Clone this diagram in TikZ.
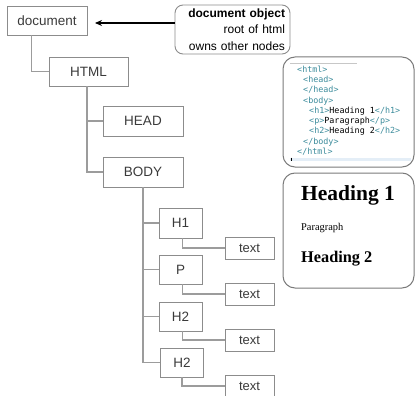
\documentclass[tikz,border=0pt]{standalone}
\usepackage{fontspec}
\setmainfont{Liberation Sans}
\newfontfamily\codefont{DejaVu Sans Mono}
\newfontfamily\pagefont{Liberation Serif}
\usetikzlibrary{arrows.meta}

\definecolor{boxgrey}{HTML}{8C8C8C}
\definecolor{linegrey}{HTML}{9C9C9C}
\definecolor{inkgrey}{HTML}{3A3A3A}
\definecolor{panelgrey}{HTML}{7A7A7A}
\definecolor{tagteal}{HTML}{3B8B9B}
\definecolor{selblue}{HTML}{E4EEF7}
\newcommand{\tagtxt}[1]{\textcolor{tagteal}{#1}}
\newlength{\indentstep}
\setlength{\indentstep}{6pt} % indent per level in the listing

\tikzset{
  treebox/.style={draw=boxgrey, line width=0.9pt, text=inkgrey, inner sep=0pt,
    minimum width=80pt, minimum height=29pt, font=\fontsize{13.5}{15}\selectfont},
  smallbox/.style={treebox, minimum width=43pt, minimum height=30pt},
  leafbox/.style={treebox, minimum width=49pt, minimum height=22pt, font=\fontsize{13}{15}\selectfont},
  branch/.style={draw=linegrey, line width=1.4pt},
  pointer/.style={-{Stealth[length=7pt,width=6pt]}, line width=1.3pt},
  panel/.style={draw=panelgrey, line width=1pt, rounded corners=12pt, inner sep=0pt}
}

\begin{document}
\begin{tikzpicture}[x=1pt, y=-1pt]
% Fix the page to the size of the screenshot
\useasboundingbox (0,0) rectangle (415,396);

% The DOM tree
\node[treebox] (doc) at (47, 20.5) {document};
\node[treebox, minimum width=79pt] (html) at (88.5, 71.5) {HTML};
\node[treebox, minimum height=30pt] (head) at (143, 121) {HEAD};
\node[treebox, minimum height=30pt] (body) at (143, 172) {BODY};
\node[smallbox] (h1) at (180.5, 223) {H1};
\node[leafbox] (text1) at (249.5, 248) {text};
\node[smallbox, minimum height=29pt] (p) at (180.5, 269.5) {P};
\node[leafbox] (text2) at (249.5, 294) {text};
\node[smallbox, minimum height=29pt] (h2a) at (180.5, 316.5) {H2};
\node[leafbox] (text3) at (249.5, 340) {text};
\node[smallbox, minimum height=29pt] (h2b) at (182, 362.5) {H2};
\node[leafbox] (text4) at (249.5, 386) {text};

% Elbow connectors
\draw[branch] ([xshift=25pt]doc.south west) |- (html.west);
\draw[branch] ([xshift=-1.5pt]html.south) |- (head.west);
\draw[branch] ([xshift=-1.5pt]html.south) |- (body.west);
\foreach \n in {h1, p, h2a, h2b}
  \draw[branch] (body.south) |- (\n.west);
\draw[branch] ([xshift=24pt]h1.south west) |- (text1.west);
\draw[branch] ([xshift=24pt]p.south west) |- (text2.west);
\draw[branch] ([xshift=24pt]h2a.south west) |- (text3.west);
\draw[branch] ([xshift=22pt]h2b.south west) |- (text4.west);

% Callout for the document object
\node[draw=boxgrey, line width=0.9pt, rounded corners=8pt, inner xsep=5pt, inner ysep=0pt,
  text width=105pt, minimum height=49pt, align=right,
  font=\fontsize{12}{16.5}\selectfont] (callout) at (232.5, 29.5)
  {\textbf{document object}\\root of html\\owns other nodes};
\coordinate (tip) at (95, 23);
\draw[pointer] (callout.west |- tip) -- (tip);

% Source listing
\node[panel, minimum width=131pt, minimum height=110pt] (source) at (348.5, 112) {};
\draw[black!22, line width=0.6pt] (290, 63) -- (357, 63);
\fill[selblue] (290, 157.5) rectangle (411, 161);
\draw[black, line width=1pt] (291, 157.5) -- (291, 161);
\node[anchor=north west, inner sep=0pt, align=left,
  font=\codefont\fontsize{8.4}{10.3}\selectfont] (listing) at (297, 65.5)
  {\tagtxt{<html>}\\%
   \hspace*{\indentstep}\tagtxt{<head>}\\%
   \hspace*{\indentstep}\tagtxt{</head>}\\%
   \hspace*{\indentstep}\tagtxt{<body>}\\%
   \hspace*{2\indentstep}\tagtxt{<h1>}Heading 1\tagtxt{</h1>}\\%
   \hspace*{2\indentstep}\tagtxt{<p>}Paragraph\tagtxt{</p>}\\%
   \hspace*{2\indentstep}\tagtxt{<h2>}Heading 2\tagtxt{</h2>}\\%
   \hspace*{\indentstep}\tagtxt{</body>}\\%
   \tagtxt{</html>}};

% Rendered page
\node[panel, minimum width=131pt, minimum height=115pt] (page) at (348.5, 230.5) {};
\node[anchor=base west, inner sep=0pt, font=\pagefont\bfseries\fontsize{21.5}{24}\selectfont]
  (heading1) at (301, 200) {Heading 1};
\node[anchor=base west, inner sep=0pt, font=\pagefont\fontsize{10.4}{12}\selectfont]
  (para) at (301, 230) {Paragraph};
\node[anchor=base west, inner sep=0pt, font=\pagefont\bfseries\fontsize{16.3}{18}\selectfont]
  (heading2) at (301, 262) {Heading 2};
\end{tikzpicture}
\end{document}
